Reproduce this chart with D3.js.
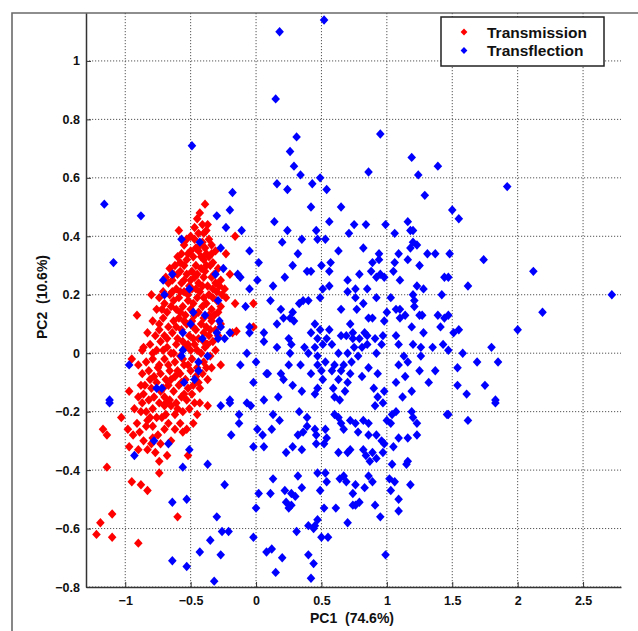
<!DOCTYPE html>
<html>
<head>
<meta charset="utf-8">
<script src="https://cdn.jsdelivr.net/npm/d3@7"></script>
<style>
  body { margin: 0; background: #fff; }
  svg { display: block; font-family: "Liberation Sans", Arial, sans-serif; font-weight: bold; }
</style>
</head>
<body>
<script>
// PC scores, [PC1, PC2]
const transmission = [
  [-1.03,-0.22],[-1.17,-0.26],[-1.14,-0.28],[-0.97,-0.32],[-0.98,-0.26],[-0.94,-0.28],[-0.89,-0.27],[-0.88,-0.20],
  [-0.83,-0.23],[-0.84,-0.25],[-0.75,-0.28],[-0.79,-0.29],[-0.83,-0.33],[-0.77,-0.34],[-0.74,-0.37],[-0.74,-0.41],
  [-0.65,-0.30],[-0.58,-0.24],[-0.56,-0.27],[-0.67,-0.24],[-0.72,-0.22],[-0.65,-0.18],[-0.48,-0.24],[-0.52,-0.35],
  [-1.14,-0.39],[-0.95,-0.44],[-0.88,-0.45],[-0.83,-0.47],[-1.10,-0.55],[-1.19,-0.58],[-1.22,-0.62],[-1.10,-0.63],
  [-0.90,-0.65],[-0.60,-0.56],[-0.43,-0.17],[-0.37,-0.18],[-0.70,-0.18],
  [-0.39,0.51],[-0.59,0.42],[-0.38,0.42],[-0.16,0.40],[-0.44,0.41],[-0.47,0.39],[-0.23,0.34],[-0.34,0.34],
  [-0.20,0.27],[-0.80,0.20],[-0.91,0.13],[-0.16,0.17],[-0.02,0.17],[-0.18,0.07],[-0.02,0.09],[-0.27,-0.04],
  [-0.90,-0.04],[-0.95,-0.02],[-0.97,-0.13],[-0.34,-0.05],[-0.15,0.075],[-0.87,0.01],
  [-0.45,0.46],[-0.41,0.44],[-0.50,0.40],[-0.43,0.37],[-0.36,0.39],[-0.55,0.37],[-0.39,0.36],
  [-0.52,0.34],[-0.48,0.33],[-0.44,0.35],[-0.40,0.32],[-0.36,0.33],[-0.31,0.35],[-0.58,0.31],[-0.62,0.30],
  [-0.55,0.30],[-0.46,0.30],[-0.42,0.29],[-0.38,0.30],[-0.33,0.31],[-0.29,0.29],[-0.66,0.29],
  [-0.69,0.26],[-0.64,0.25],[-0.60,0.27],[-0.57,0.24],[-0.53,0.27],[-0.50,0.25],[-0.47,0.26],[-0.44,0.24],
  [-0.40,0.26],[-0.37,0.23],[-0.34,0.26],[-0.31,0.24],[-0.27,0.25],[-0.24,0.22],[-0.61,0.22],[-0.55,0.21],
  [-0.49,0.22],[-0.43,0.21],[-0.36,0.20],[-0.30,0.21],
  [-0.74,0.19],[-0.70,0.17],[-0.66,0.20],[-0.63,0.18],[-0.59,0.19],[-0.56,0.16],[-0.52,0.18],[-0.48,0.17],
  [-0.45,0.19],[-0.41,0.16],[-0.38,0.17],[-0.34,0.15],[-0.30,0.18],[-0.27,0.16],[-0.23,0.19],[-0.68,0.14],
  [-0.61,0.15],[-0.54,0.13],[-0.50,0.15],[-0.44,0.14],[-0.36,0.13],[-0.76,0.15],
  [-0.79,0.11],[-0.74,0.10],[-0.71,0.12],[-0.67,0.09],[-0.63,0.11],[-0.59,0.12],[-0.57,0.08],[-0.53,0.10],
  [-0.49,0.11],[-0.46,0.08],[-0.42,0.10],[-0.38,0.09],[-0.34,0.11],[-0.31,0.08],[-0.27,0.10],[-0.83,0.07],
  [-0.77,0.06],[-0.70,0.06],[-0.64,0.07],[-0.60,0.05],[-0.51,0.06],[-0.44,0.05],[-0.36,0.06],[-0.33,0.04],
  [-0.86,0.02],[-0.81,0.03],[-0.76,0.01],[-0.73,0.04],[-0.68,0.02],[-0.65,0.00],[-0.61,0.03],[-0.58,-0.01],
  [-0.54,0.02],[-0.50,0.01],[-0.47,0.03],[-0.42,0.00],[-0.39,0.02],[-0.35,-0.01],[-0.31,0.01],[-0.84,-0.03],
  [-0.79,-0.02],[-0.74,-0.04],[-0.70,-0.02],[-0.62,-0.03],[-0.55,-0.04],[-0.49,-0.02],[-0.40,-0.03],
  [-0.87,-0.07],[-0.82,-0.06],[-0.78,-0.08],[-0.73,-0.07],[-0.69,-0.09],[-0.66,-0.06],[-0.62,-0.08],[-0.58,-0.07],
  [-0.54,-0.09],[-0.50,-0.06],[-0.46,-0.08],[-0.41,-0.07],[-0.37,-0.09],[-0.85,-0.11],[-0.80,-0.12],[-0.76,-0.10],
  [-0.71,-0.12],[-0.67,-0.11],[-0.63,-0.13],[-0.59,-0.11],[-0.52,-0.12],[-0.48,-0.11],[-0.43,-0.12],
  [-0.90,-0.15],[-0.86,-0.14],[-0.82,-0.16],[-0.78,-0.15],[-0.74,-0.17],[-0.70,-0.15],[-0.66,-0.16],[-0.61,-0.17],
  [-0.57,-0.15],[-0.53,-0.16],[-0.49,-0.14],[-0.93,-0.19],[-0.84,-0.20],[-0.79,-0.19],[-0.76,-0.22],[-0.62,-0.21],
  [-0.56,-0.20],[-0.51,-0.19],
  [-0.47,0.43],[-0.43,0.48],[-0.40,0.41],[-0.37,0.44],[-0.53,0.39],[-0.46,0.36],[-0.41,0.38],[-0.34,0.37],
  [-0.50,0.35],[-0.57,0.34],[-0.38,0.34],[-0.42,0.33],[-0.60,0.33],[-0.53,0.32],[-0.35,0.30],[-0.49,0.28],
  [-0.45,0.27],[-0.39,0.28],[-0.32,0.27],[-0.58,0.28],[-0.63,0.27],[-0.67,0.24],[-0.55,0.25],[-0.51,0.23],
  [-0.46,0.22],[-0.41,0.23],[-0.33,0.22],[-0.28,0.23],[-0.64,0.21],[-0.58,0.21],[-0.52,0.20],[-0.40,0.19],
  [-0.33,0.19],[-0.26,0.20],[-0.71,0.21],
  [-0.72,0.15],[-0.65,0.16],[-0.58,0.14],[-0.47,0.13],[-0.40,0.12],[-0.32,0.13],[-0.29,0.14],[-0.61,0.09],
  [-0.55,0.11],[-0.48,0.09],[-0.40,0.07],[-0.35,0.08],[-0.29,0.06],[-0.74,0.08],[-0.68,0.05],[-0.56,0.04],
  [-0.48,0.05],[-0.40,0.04],[-0.52,0.03],[-0.45,0.01],[-0.37,0.03],[-0.79,0.00],[-0.71,0.01],[-0.63,0.00],
  [-0.56,-0.02],[-0.45,-0.05],[-0.52,-0.04],[-0.67,-0.04],[-0.60,-0.06],[-0.38,-0.05],[-0.81,-0.09],[-0.75,-0.05],
  [-0.57,-0.10],[-0.44,-0.10],[-0.65,-0.09],[-0.73,-0.13],[-0.55,-0.14],[-0.88,-0.11],[-0.69,-0.17],[-0.60,-0.19],
  [-0.81,-0.22],[-0.87,-0.17],[-0.47,-0.17],[-0.45,-0.21],[-0.69,-0.21],[-0.91,-0.24],[-0.79,-0.25],[-0.70,-0.26],
  [-0.62,-0.26],[-0.53,-0.26],[-0.86,-0.30],[-0.80,-0.31],[-0.73,-0.31],[-0.90,-0.33],[-0.68,-0.35]
];

const transflection = [
  [-0.49,0.71],[-0.18,0.55],
  [0.18,1.10],[0.52,1.14],[0.15,0.87],[0.31,0.74],[0.26,0.69],[0.29,0.64],[0.34,0.61],[0.16,0.58],[0.24,0.56],
  [0.43,0.58],[0.49,0.60],[0.54,0.56],[0.95,0.75],[0.86,0.62],[1.19,0.67],[1.24,0.61],[1.39,0.64],[1.29,0.54],
  [1.92,0.57],
  [-1.16,0.51],[-0.88,0.47],[-1.09,0.31],[-0.30,0.47],[-0.20,0.49],[-0.23,0.43],[-0.11,0.42],[-0.57,0.39],
  [-0.43,0.38],[-0.27,0.36],[-0.05,0.35],[0.02,0.31],[-0.25,0.29],[-0.14,0.27],[-0.12,0.26],[0.01,0.25],
  [-0.71,0.25],[-0.64,0.27],[-0.31,0.27],[-0.70,0.20],[-0.51,0.22],[-0.05,0.22],[-0.29,0.18],[-0.08,0.16],
  [-0.48,0.14],[-0.39,0.13],[-0.50,0.10],[-0.28,0.11],[-0.27,0.09],[-0.30,0.07],[-0.20,0.07],[-0.05,0.09],
  [-0.05,0.07],[0.06,0.07],[-0.56,0.07],[-0.41,0.05],[-0.29,0.05],[-0.24,0.05],[0.06,0.04],[-0.56,0.01],
  [-0.57,-0.01],[-0.37,-0.01],[-0.07,0.00],[-0.44,-0.03],[-0.44,-0.06],[-0.97,-0.04],[-0.12,-0.04],[0.00,-0.03],
  [0.08,-0.07],[-0.47,-0.09],[-0.55,-0.10],[-0.02,-0.10],[-0.76,-0.12],[-0.72,-0.12],[-0.20,-0.16],[-1.12,-0.16],
  [0.06,-0.16],
  [-1.12,-0.17],[-0.93,-0.35],[-0.78,-0.30],[-0.67,-0.31],[-0.51,-0.33],[-0.56,-0.39],[-0.37,-0.38],[-0.27,-0.18],
  [-0.20,-0.17],[-0.13,-0.21],[-0.13,-0.24],[-0.19,-0.28],[-0.07,-0.17],[-0.04,-0.18],[0.01,-0.26],[-0.02,-0.32],
  [0.05,-0.28],[0.06,-0.32],[-0.24,-0.45],[0.02,-0.48],[0.00,-0.53],[-0.64,-0.51],[-0.53,-0.50],[-0.30,-0.56],
  [-0.26,-0.61],[-0.21,-0.61],[-0.35,-0.64],[-0.02,-0.63],[-0.43,-0.68],[-0.27,-0.69],[-0.64,-0.71],[-0.53,-0.73],
  [-0.32,-0.78],[0.08,-0.68],
  [0.13,-0.21],[0.18,-0.23],[0.12,-0.26],[0.33,-0.20],[0.32,-0.28],[0.36,-0.27],[0.39,-0.22],[0.39,-0.25],
  [0.45,-0.26],[0.46,-0.28],[0.46,-0.31],[0.53,-0.26],[0.54,-0.29],[0.52,-0.31],[0.28,-0.32],[0.23,-0.34],
  [0.35,-0.33],[0.60,-0.21],[0.63,-0.22],[0.65,-0.24],[0.67,-0.26],[0.72,-0.23],[0.76,-0.24],[0.78,-0.27],
  [0.82,-0.23],[0.86,-0.24],[0.86,-0.28],[0.92,-0.28],[0.96,-0.30],[0.91,-0.18],[0.97,-0.17],[1.00,-0.23],
  [1.04,-0.21],[1.07,-0.20],[1.03,-0.24],[1.05,-0.32],[1.09,-0.29],[1.16,-0.29],[1.19,-0.20],[1.20,-0.22],
  [1.23,-0.24],[1.23,-0.28],[1.46,-0.21],[0.63,-0.34],[0.70,-0.34],[0.72,-0.33],[0.82,-0.33],[0.84,-0.35],
  [0.89,-0.34],[0.87,-0.37],[0.92,-0.36],[0.97,-0.34],[1.04,-0.38],[1.16,-0.37],[1.15,-0.38],[1.18,-0.45],
  [1.02,-0.43],[1.06,-0.44],[1.03,-0.47],[1.09,-0.50],[1.09,-0.54],[0.13,-0.43],[0.11,-0.48],[0.22,-0.47],
  [0.27,-0.48],[0.30,-0.49],[0.35,-0.46],[0.32,-0.42],[0.47,-0.41],[0.53,-0.41],[0.54,-0.44],[0.49,-0.47],
  [0.64,-0.43],[0.67,-0.42],[0.69,-0.44],[0.76,-0.45],[0.83,-0.46],[0.86,-0.42],[0.89,-0.44],[0.74,-0.48],
  [0.79,-0.51],[0.74,-0.52],[0.76,-0.52],[0.91,-0.52],[0.95,-0.56],[0.23,-0.51],[0.27,-0.52],[0.25,-0.53],
  [0.52,-0.53],[0.61,-0.53],[0.70,-0.58],[0.40,-0.59],[0.44,-0.60],[0.47,-0.57],[0.45,-0.59],[0.31,-0.61],
  [0.50,-0.63],[0.55,-0.63],[0.12,-0.67],[0.20,-0.70],[0.15,-0.75],[0.40,-0.69],[0.44,-0.72],[0.42,-0.77],
  [0.99,-0.69],[0.98,-0.31],
  [1.62,-0.23],[1.83,-0.17],[1.47,-0.21],
  [1.50,0.49],[1.55,0.46],[1.48,0.34],[1.74,0.32],[2.12,0.28],[1.62,0.23],[2.72,0.20],[2.19,0.14],[2.00,0.08],
  [1.55,0.08],[1.51,0.07],[1.80,0.02],[1.58,0.00],[1.69,-0.03],[1.85,-0.03],[1.54,-0.05],[1.54,-0.11],
  [1.75,-0.11],[1.61,-0.14],[1.83,-0.16],[1.47,0.26],[1.47,0.13],[1.47,0.01],
  [0.42,0.50],[0.65,0.50],[0.14,0.45],[0.24,0.42],[0.46,0.42],[0.56,0.45],[0.75,0.44],[0.84,0.44],
  [0.99,0.44],[1.16,0.45],[1.18,0.42],[1.20,0.42],[0.71,0.41],[1.06,0.41],[0.20,0.38],[0.35,0.39],
  [0.47,0.39],[0.53,0.39],[1.20,0.38],[1.23,0.37],[0.32,0.34],[0.63,0.35],[0.82,0.36],[1.18,0.36],
  [0.94,0.34],[1.09,0.34],[1.31,0.34],[1.37,0.34],[1.16,0.32],[0.94,0.32],[1.06,0.31],[0.89,0.31],
  [0.28,0.30],[0.50,0.30],[0.57,0.31],[1.25,0.30],[0.39,0.28],[0.42,0.28],[0.56,0.28],[0.88,0.28],
  [0.95,0.27],[1.05,0.28],[0.22,0.26],[0.79,0.27],[0.92,0.26],[0.98,0.26],[0.70,0.25],[1.10,0.25],
  [1.44,0.26],[0.13,0.23],[0.56,0.23],[0.51,0.22],[0.76,0.22],[0.85,0.22],[1.23,0.23],[1.28,0.22],
  [0.70,0.21],[0.76,0.19],[0.92,0.19],[1.03,0.19],[1.20,0.20],[1.42,0.20],[0.49,0.19],[0.11,0.18],
  [0.36,0.18],[0.40,0.18],[0.33,0.17],[0.82,0.17],[1.21,0.18],[0.19,0.15],[0.65,0.15],[0.77,0.15],
  [1.07,0.15],[1.10,0.15],[1.21,0.16],[1.25,0.13],[0.28,0.14],[0.26,0.12],[0.21,0.12],[0.86,0.12],
  [0.89,0.12],[1.00,0.14],[0.98,0.11],[1.10,0.12],[1.14,0.13],[1.27,0.13],[1.39,0.13],[1.44,0.12],
  [0.16,0.10],[0.29,0.11],[0.45,0.10],[0.72,0.10],[1.41,0.09],[1.19,0.09],[0.42,0.07],[0.49,0.08],
  [0.56,0.08],[0.65,0.06],[0.74,0.07],[0.83,0.07],[0.85,0.06],[1.07,0.06],[1.28,0.07],[0.47,0.05],
  [0.54,0.05],[0.69,0.06],[0.74,0.05],[0.79,0.05],[0.91,0.05],[0.97,0.06],[0.25,0.05],[0.16,0.02],
  [0.27,0.03],[0.37,0.02],[0.45,0.02],[0.51,0.03],[0.58,0.03],[0.75,0.02],[0.81,0.02],[0.85,0.03],
  [0.96,0.03],[1.09,0.03],[1.20,0.03],[1.26,0.02],[1.35,0.02],[1.43,0.03],[0.26,0.00],[0.40,0.00],
  [0.47,-0.01],[0.63,0.00],[0.70,0.00],[0.78,-0.01],[0.92,0.00],[1.13,-0.01],[1.16,-0.03],[1.09,-0.04],
  [1.26,-0.01],[0.47,-0.04],[0.53,-0.03],[0.60,-0.04],[0.67,-0.04],[0.73,-0.03],[0.25,-0.04],[0.34,-0.04],
  [0.86,-0.05],[0.50,-0.06],[0.58,-0.06],[0.65,-0.06],[0.72,-0.07],[0.81,-0.08],[0.93,-0.07],[0.19,-0.07],
  [1.25,-0.06],[1.37,-0.06],[0.42,-0.07],[0.09,-0.07],[0.51,-0.09],[0.63,-0.09],[0.70,-0.10],[1.07,-0.10],
  [1.14,-0.08],[1.32,-0.10],[0.28,-0.11],[0.35,-0.13],[0.47,-0.12],[0.59,-0.12],[0.68,-0.13],[0.90,-0.12],
  [0.98,-0.13],[1.19,-0.13],[0.45,-0.14],[0.60,-0.15],[0.64,-0.16],[0.93,-0.15],[1.12,-0.15],[0.21,-0.09],
  [0.17,-0.15]
];

const xTicks = [-1, -0.5, 0, 0.5, 1, 1.5, 2, 2.5];
const yTicks = [-0.8, -0.6, -0.4, -0.2, 0, 0.2, 0.4, 0.6, 0.8, 1];
const seriesNames = ["Transmission", "Transflection"];
const seriesColors = ["#ff0000", "#0000ff"];

const W = 638, H = 631;
const plot = { left: 86, top: 13, right: 621, bottom: 587 };

const svg = d3.select("body").append("svg")
  .attr("width", W)
  .attr("height", H);

const x = d3.scaleLinear().domain([-1.30, 2.79]).range([plot.left, plot.right]);
const y = d3.scaleLinear().domain([-0.8, 1.164]).range([plot.bottom, plot.top]);

// figure frame (cropped on right and bottom)
svg.append("path")
  .attr("d", `M12,${H + 2}V13H${W + 2}`)
  .attr("fill", "none")
  .attr("stroke", "#6a6a6a")
  .attr("stroke-width", 1.6);

// grid
const grid = svg.append("g")
  .attr("stroke", "#555")
  .attr("stroke-width", 1)
  .attr("stroke-dasharray", "1.2,1.8");

grid.selectAll(".vg").data(xTicks).join("line")
  .attr("x1", d => x(d)).attr("x2", d => x(d))
  .attr("y1", plot.top).attr("y2", plot.bottom);

grid.selectAll(".hg").data(yTicks).join("line")
  .attr("x1", plot.left).attr("x2", plot.right)
  .attr("y1", d => y(d)).attr("y2", d => y(d));

// axes, ticks inside like matlab
const xAxis = svg.append("g")
  .attr("transform", `translate(0,${plot.bottom})`)
  .call(d3.axisBottom(x).tickValues(xTicks).tickSizeInner(-5).tickSizeOuter(0).tickPadding(9)
    .tickFormat(d3.format("")));

const yAxis = svg.append("g")
  .attr("transform", `translate(${plot.left},0)`)
  .call(d3.axisLeft(y).tickValues(yTicks).tickSizeInner(-5).tickSizeOuter(0).tickPadding(6)
    .tickFormat(d3.format("")));

[xAxis, yAxis].forEach(g => {
  g.select(".domain").attr("stroke", "#333").attr("stroke-width", 1.5);
  g.selectAll(".tick line").attr("stroke", "#333");
  g.selectAll(".tick text")
    .attr("fill", "#111")
    .style("font-size", "12.5px")
    .style("font-weight", "bold")
    .style("font-family", '"Liberation Sans", Arial, sans-serif');
});

// axis titles
svg.append("text")
  .attr("x", 352).attr("y", 623)
  .attr("text-anchor", "middle")
  .style("font-size", "14px")
  .style("white-space", "pre")
  .attr("fill", "#111")
  .text("PC1  (74.6%)");

svg.append("text")
  .attr("transform", "translate(47,297) rotate(-90)")
  .attr("text-anchor", "middle")
  .style("font-size", "14px")
  .style("white-space", "pre")
  .attr("fill", "#111")
  .text("PC2  (10.6%)");

// diamond marker
const diamond = "M0,-4.7L4.3,0L0,4.7L-4.3,0Z";

const marks = svg.append("g");
[transmission, transflection].forEach((pts, i) => {
  marks.append("g").selectAll("path").data(pts).join("path")
    .attr("d", diamond)
    .attr("transform", d => `translate(${x(d[0])},${y(d[1])})`)
    .attr("fill", seriesColors[i]);
});

// legend
const legend = svg.append("g");
legend.append("rect")
  .attr("x", 441).attr("y", 17)
  .attr("width", 163).attr("height", 49)
  .attr("fill", "#fff")
  .attr("stroke", "#222")
  .attr("stroke-width", 1.5);

seriesNames.forEach((name, i) => {
  const cy = 32 + i * 18.5;
  legend.append("path")
    .attr("d", "M0,-3.6L3.4,0L0,3.6L-3.4,0Z")
    .attr("transform", `translate(464,${cy})`)
    .attr("fill", seriesColors[i]);
  legend.append("text")
    .attr("x", 487).attr("y", cy + 5.5)
    .style("font-size", "15.5px")
    .attr("fill", "#111")
    .text(name);
});
</script>
</body>
</html>
